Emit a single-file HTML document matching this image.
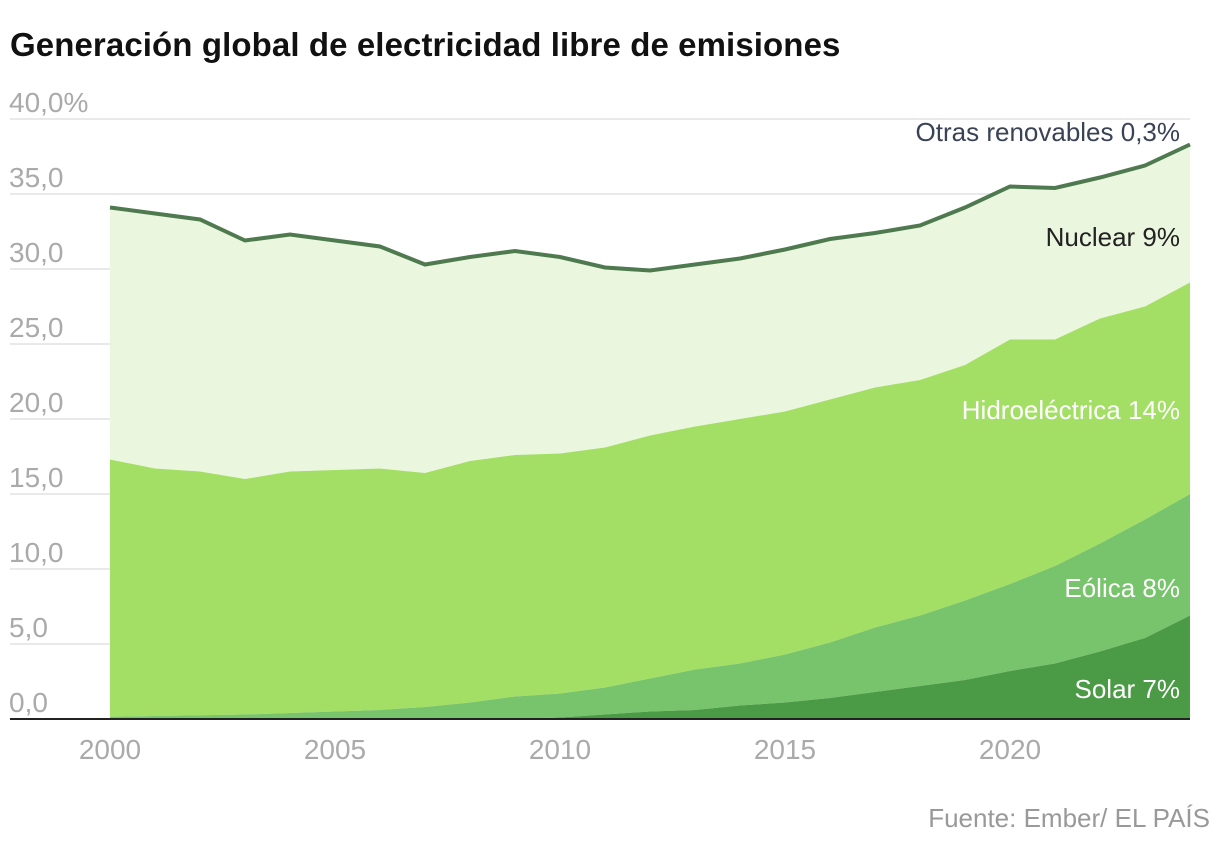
<!DOCTYPE html>
<html><head><meta charset="utf-8"><style>
body{margin:0;background:#fff;width:1220px;height:846px;overflow:hidden;font-family:"Liberation Sans",sans-serif}
</style></head><body>
<svg width="1220" height="846" xmlns="http://www.w3.org/2000/svg">
<text x="10" y="56" font-size="33" font-weight="bold" fill="#111" style="letter-spacing:0.1px">Generación global de electricidad libre de emisiones</text>
<g id="grid"></g><g id="areas"></g><g id="labels"></g>
<text x="1210" y="827" font-size="26" fill="#999" text-anchor="end">Fuente: Ember/ EL PAÍS</text>
</svg>
<script>
const years=[2000,2001,2002,2003,2004,2005,2006,2007,2008,2009,2010,2011,2012,2013,2014,2015,2016,2017,2018,2019,2020,2021,2022,2023,2024];
const solarCum=[0,0,0,0,0,0,0,0,0,0,0.1,0.3,0.5,0.6,0.9,1.1,1.4,1.8,2.2,2.6,3.2,3.7,4.5,5.4,6.9];
const windCum=[0.15,0.2,0.25,0.3,0.4,0.5,0.6,0.8,1.1,1.5,1.7,2.1,2.7,3.3,3.7,4.3,5.1,6.1,6.9,7.9,9.0,10.2,11.7,13.3,15.0];
const hydroCum=[17.3,16.7,16.5,16.0,16.5,16.6,16.7,16.4,17.2,17.6,17.7,18.1,18.9,19.5,20.0,20.5,21.3,22.1,22.6,23.6,25.3,25.3,26.7,27.5,29.1];
const totalCum=[34.1,33.7,33.3,31.9,32.3,31.9,31.5,30.3,30.8,31.2,30.8,30.1,29.9,30.3,30.7,31.3,32.0,32.4,32.9,34.1,35.5,35.4,36.1,36.9,38.3];
const yTicks=[0,5,10,15,20,25,30,35,40];
const xTicks=[2000,2005,2010,2015,2020];
const NS="http://www.w3.org/2000/svg";
const X=v=>110+(v-2000)*45, Y=v=>719-v*15;
function mk(tag,attrs,parent){const e=document.createElementNS(NS,tag);for(const k in attrs)e.setAttribute(k,attrs[k]);parent.appendChild(e);return e;}
const grid=document.getElementById('grid'),areas=document.getElementById('areas'),labels=document.getElementById('labels');
yTicks.forEach(t=>{
 const l=mk('line',{x1:10,x2:1190,y1:Y(t),y2:Y(t),stroke:'#e2e2e2','stroke-width':1.5},grid);
 
 
 const tx=mk('text',{x:9,y:Y(t)-7,'font-size':28,fill:'#aaa'},grid);
 tx.textContent=t.toFixed(1).replace('.',',')+(t===40?'%':'');
 
 
});
function band(top,bot,fill,name){
 let d='M'+years.map((y,i)=>X(y)+','+Y(top[i])).join('L');
 for(let i=years.length-1;i>=0;i--)d+='L'+X(years[i])+','+Y(bot?bot[i]:0);
 const p=mk('path',{d:d+'Z',fill:fill},areas);
 
 
}
band(totalCum,hydroCum,'#ebf6df','nuclear-area');
band(hydroCum,windCum,'#a3df65','hydro-area');
band(windCum,solarCum,'#78c46c','wind-area');
band(solarCum,null,'#4b9a45','solar-area');
const line=mk('path',{d:'M'+years.map((y,i)=>X(y)+','+Y(totalCum[i])).join('L'),fill:'none',stroke:'#4f7a4f','stroke-width':4},areas);


const ax=mk('line',{x1:10,x2:1190,y1:719,y2:719,stroke:'#222','stroke-width':2},areas);


xTicks.forEach(t=>{
 const tx=mk('text',{x:X(t),y:759,'font-size':28,fill:'#aaa','text-anchor':'middle'},labels);
 tx.textContent=t;
 
 
});
[['Otras renovables 0,3%',141,'#3a4256','label-other'],['Nuclear 9%',246,'#222','label-nuclear'],['Hidroeléctrica 14%',419,'#fff','label-hydro'],['Eólica 8%',597,'#fff','label-wind'],['Solar 7%',698,'#fff','label-solar']].forEach(a=>{
 const tx=mk('text',{x:1180,y:a[1],'font-size':26,fill:a[2],'text-anchor':'end'},labels);
 tx.textContent=a[0];
 
 
});
</script>
</body></html>
